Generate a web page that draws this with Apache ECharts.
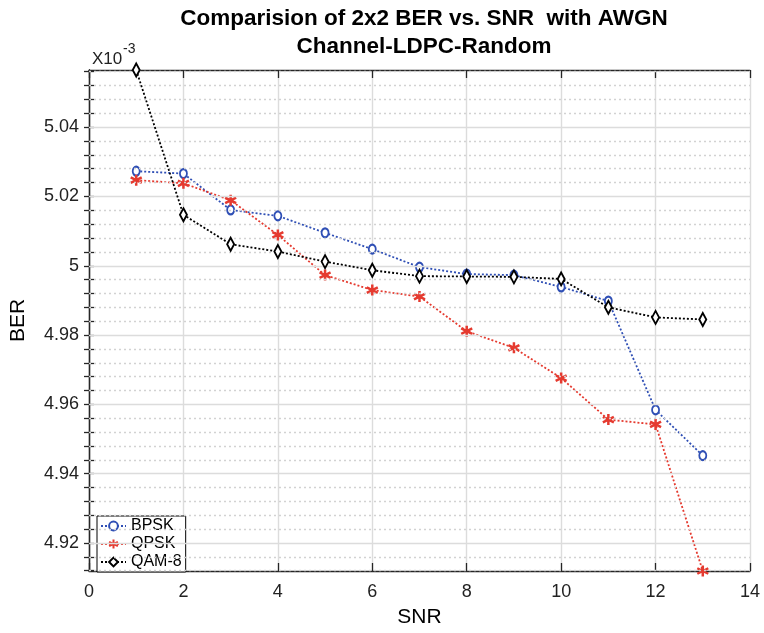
<!DOCTYPE html>
<html>
<head>
<meta charset="utf-8">
<script src="https://cdn.jsdelivr.net/npm/echarts@6/dist/echarts.min.js"></script>
<style>
  html, body { margin: 0; padding: 0; background: #fff; }
  #chart { width: 764px; height: 633px; }
</style>
</head>
<body>
<div id="chart"></div>
<script>
// SNR values (x) and BER values in units of 1e-3
var snr = [1, 2, 3, 4, 5, 6, 7, 8, 9, 10, 11, 12, 13];
var berBPSK = [5.0273, 5.0266, 5.0161, 5.0144, 5.0095, 5.0048, 4.9996, 4.9976, 4.9973, 4.9939, 4.9898, 4.9584, 4.9452];
var berQPSK = [5.0247, 5.0238, 5.0189, 5.0089, 4.9973, 4.9930, 4.9911, 4.9811, 4.9763, 4.9676, 4.9556, 4.9542, 4.9119];
var berQAM8 = [5.0565, 5.0147, 5.0062, 5.0041, 5.0012, 4.9987, 4.9970, 4.9969, 4.9968, 4.9962, 4.9880, 4.9851, 4.9845];

var yMin = 4.9119, yMax = 5.0565;
var yMajor = [4.92, 4.94, 4.96, 4.98, 5.00, 5.02, 5.04];
var yMinor = [4.912, 4.916, 4.924, 4.928, 4.932, 4.936, 4.944, 4.948, 4.952, 4.956,
  4.964, 4.968, 4.972, 4.976, 4.984, 4.988, 4.992, 4.996, 5.004, 5.008, 5.012, 5.016,
  5.024, 5.028, 5.032, 5.036, 5.044, 5.048, 5.052, 5.056];

function pairs(ys) {
  return snr.map(function (x, i) { return [x, ys[i]]; });
}

var font = "Liberation Sans, Arial, sans-serif";
var axisColor = "#262626";
var chart = echarts.init(document.getElementById("chart"));

var option = {
  backgroundColor: "#fff",
  animation: false,
  title: {
    text: "Comparision of 2x2 BER vs. SNR  with AWGN\nChannel-LDPC-Random",
    left: 419,
    top: 0,
    textAlign: "center",
    textStyle: { fontFamily: font, fontSize: 22.5, fontWeight: "bold", color: "#000", lineHeight: 28 }
  },
  grid: { left: 88, right: 14, top: 70, bottom: 52, containLabel: false },
  legend: {
    data: ["BPSK", "QPSK", "QAM-8"],
    orient: "vertical",
    left: 97,
    top: 516,
    itemWidth: 25,
    itemHeight: 11,
    itemGap: 2,
    padding: [2, 4, 2, 3],
    borderColor: "#000",
    borderWidth: 1,
    backgroundColor: "#fff",
    textStyle: { fontFamily: font, fontSize: 16, color: "#000" }
  },
  xAxis: [
    {
      type: "value", min: 0, max: 14, interval: 2,
      name: "SNR", nameLocation: "middle", nameGap: 36,
      nameTextStyle: { fontFamily: font, fontSize: 21, color: "#000" },
      axisLine: { show: true, lineStyle: { color: axisColor, width: 1.3 } },
      axisTick: { inside: true, length: 8, lineStyle: { color: axisColor, width: 1.3 } },
      axisLabel: { fontFamily: font, fontSize: 18, color: "#222", margin: 12 },
      splitLine: { show: true, lineStyle: { color: "#dcdcdc", width: 1.4 } }
    },
    {
      type: "value", min: 0, max: 14, interval: 2, position: "top",
      axisLine: { show: true, lineStyle: { color: axisColor, width: 1.3 } },
      axisTick: { inside: true, length: 8, lineStyle: { color: axisColor, width: 1.3 } },
      axisLabel: { show: false },
      splitLine: { show: false }
    }
  ],
  yAxis: [
    {
      type: "value", min: yMin, max: yMax,
      name: "BER", nameLocation: "middle", nameGap: 60,
      nameTextStyle: { fontFamily: font, fontSize: 21, color: "#000" },
      axisLine: { show: true, lineStyle: { color: axisColor, width: 1.3 } },
      axisTick: { inside: true, length: 5, customValues: yMajor.concat(yMinor), lineStyle: { color: axisColor, width: 1.3 } },
      axisLabel: {
        fontFamily: font, fontSize: 18, color: "#222", margin: 10,
        customValues: yMajor,
        formatter: function (v) { return String(+v.toFixed(2)); }
      },
      splitLine: { show: false }
    },
    {
      type: "value", min: yMin, max: yMax, position: "right",
      axisLine: { show: true, lineStyle: { color: axisColor, width: 1.3 } },
      axisTick: { inside: true, length: 5, customValues: yMajor.concat(yMinor), lineStyle: { color: axisColor, width: 1.3 } },
      axisLabel: { show: false },
      splitLine: { show: false }
    }
  ],
  graphic: [
    { type: "text", left: 92, top: 51, style: { text: "X10", font: "17px " + font, fill: "#222" } },
    { type: "text", left: 123, top: 42, style: { text: "-3", font: "14px " + font, fill: "#222" } }
  ],
  series: [
    {
      name: "grid",
      type: "line",
      data: [],
      z: 0,
      markLine: {
        silent: true,
        symbol: "none",
        precision: 4,
        animation: false,
        label: { show: false },
        lineStyle: { color: "#d2d2d2", type: [2, 3], width: 1.3 },
        data: yMinor.map(function (v) { return { yAxis: v }; })
          .concat(yMajor.map(function (v) {
            return { yAxis: v, lineStyle: { color: "#dcdcdc", type: "solid", width: 1.4 } };
          }))
      }
    },
    {
      name: "BPSK",
      type: "line",
      data: pairs(berBPSK),
      z: 3,
      symbol: "emptyCircle",
      symbolSize: [7, 9],
      itemStyle: { color: "#2f4fb5", borderColor: "#2f4fb5", borderWidth: 2 },
      lineStyle: { color: "#2f4fb5", type: [2, 2], width: 1.8 }
    },
    {
      name: "QPSK",
      type: "line",
      data: pairs(berQPSK),
      z: 4,
      symbol: "path://M5,0L5,10M0.67,2.5L9.33,7.5M0.67,7.5L9.33,2.5",
      symbolSize: 11,
      itemStyle: { color: "#e53a2f", borderColor: "#e53a2f", borderWidth: 2.5 },
      lineStyle: { color: "#e53a2f", type: [2, 2], width: 1.8 }
    },
    {
      name: "QAM-8",
      type: "line",
      data: pairs(berQAM8),
      z: 5,
      symbol: "emptyDiamond",
      symbolSize: [7, 13],
      itemStyle: { color: "#000", borderColor: "#000", borderWidth: 2 },
      lineStyle: { color: "#000", type: [2, 2], width: 1.8 }
    }
  ]
};

chart.setOption(option);
</script>
</body>
</html>
